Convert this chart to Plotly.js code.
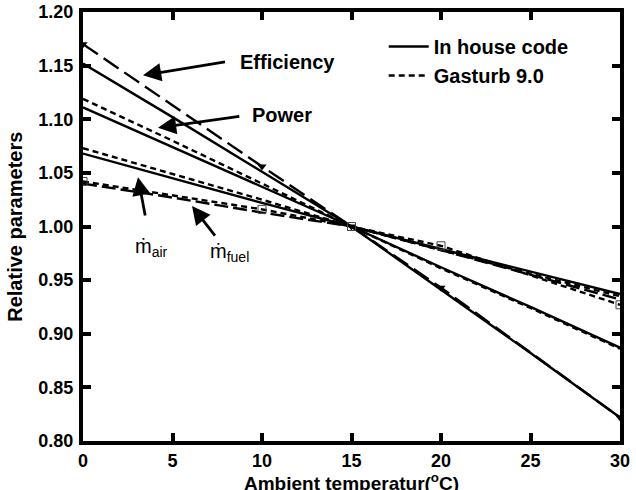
<!DOCTYPE html>
<html>
<head>
<meta charset="utf-8">
<script src="https://cdn.plot.ly/plotly-3.0.1.min.js"></script>
<style>html,body{margin:0;padding:0;background:#fff;}#chart{width:636px;height:490px;}</style>
</head>
<body>
<div id="chart"></div>
<script>
// Ambient temperature (°C)
const tempFull = [0, 5, 10, 15, 20, 25, 30];
const tempMarks = [0, 10, 15, 20, 30];

// In house code
const effInHouse = [1.152, 1.102, 1.051, 1.000, 0.941, 0.882, 0.822];
const powInHouse = [1.111, 1.074, 1.037, 1.000, 0.962, 0.925, 0.887];
const airInHouse = [1.068, 1.045, 1.022, 1.000, 0.979, 0.958, 0.937];
const fuelInHouse = [1.040, 1.027, 1.013, 1.000, 0.978, 0.955, 0.932];

// Gasturb 9.0
const effGasturb = [1.170, 1.056, 1.000, 0.943, 0.822];
const powGasturb = [1.119, 1.080, 1.040, 1.000, 0.961, 0.924, 0.886];
const airGasturb = [1.073, 1.049, 1.025, 1.000, 0.978, 0.956, 0.935];
const fuelGasturb = [1.042, 1.016, 1.000, 0.982, 0.927];

const legendNames = ['In house code', 'Gasturb 9.0'];
const xTicks = [0, 5, 10, 15, 20, 25, 30];
const yTicks = [0.80, 0.85, 0.90, 0.95, 1.00, 1.05, 1.10, 1.15, 1.20];
const xTitle = '<b>Ambient temperatur(<sup>o</sup>C)</b>';
const yTitle = '<b>Relative parameters</b>';

const W = 2.4;
const traces = [
  {x: tempFull, y: effInHouse, mode: 'lines', line: {color: '#000', width: W}, name: legendNames[0], showlegend: true},
  {x: tempMarks, y: effGasturb, mode: 'lines+markers', line: {color: '#000', width: W, dash: '18px,7px'}, marker: {symbol: 'triangle-down', size: 8, color: '#000'}, showlegend: false},
  {x: tempFull, y: powInHouse, mode: 'lines', line: {color: '#000', width: W}, showlegend: false},
  {x: tempFull, y: powGasturb, mode: 'lines', line: {color: '#000', width: W, dash: '6px,4px'}, name: legendNames[1], showlegend: true},
  {x: tempFull, y: airInHouse, mode: 'lines', line: {color: '#000', width: W}, showlegend: false},
  {x: tempFull, y: airGasturb, mode: 'lines', line: {color: '#000', width: W, dash: '6px,4px'}, showlegend: false},
  {x: tempFull, y: fuelInHouse, mode: 'lines', line: {color: '#000', width: W, dash: '14px,5px'}, showlegend: false},
  {x: tempMarks, y: fuelGasturb, mode: 'lines+markers', line: {color: '#000', width: W, dash: '6px,4px'}, marker: {symbol: 'square-open', size: 8, color: '#444', line: {width: 1}}, showlegend: false}
];

const F = 'Liberation Sans, Arial, sans-serif';
function arrow(x, y, ax, ay) {
  return {x: x, y: y, ax: ax, ay: ay, xref: 'x', yref: 'y', axref: 'x', ayref: 'y',
    showarrow: true, arrowhead: 2, arrowsize: 1.3, arrowwidth: 2.8, arrowcolor: '#000', text: ' '};
}
const annotations = [
  arrow(3.35, 1.141, 8.1, 1.154),
  {x: 11.4, y: 1.153, xref: 'x', yref: 'y', text: '<b>Efficiency</b>', showarrow: false, font: {family: F, size: 20, color: '#000'}},
  arrow(4.19, 1.092, 8.9, 1.103),
  {x: 11.1, y: 1.104, xref: 'x', yref: 'y', text: '<b>Power</b>', showarrow: false, font: {family: F, size: 20, color: '#000'}},
  arrow(3.07, 1.046, 3.58, 1.001),
  {x: 3.85, y: 0.98, xref: 'x', yref: 'y', text: 'ṁ<sub>air</sub>', showarrow: false, font: {family: F, size: 20, color: '#000'}},
  arrow(6.09, 1.019, 7.54, 0.988),
  {x: 8.2, y: 0.976, xref: 'x', yref: 'y', text: 'ṁ<sub>fuel</sub>', showarrow: false, font: {family: F, size: 20, color: '#000'}},
  {x: 0.5, y: -0.064, xref: 'paper', yref: 'paper', xanchor: 'center', yanchor: 'top', text: xTitle, showarrow: false, font: {family: F, size: 19, color: '#000'}},
  {x: -0.128, y: 0.5, xref: 'paper', yref: 'paper', xanchor: 'center', yanchor: 'middle', textangle: -90, text: yTitle, showarrow: false, font: {family: F, size: 20, color: '#000'}}
];

const axisCommon = {
  showline: true, linewidth: 4, linecolor: '#000', mirror: 'ticks',
  ticks: 'inside', ticklen: 8, tickwidth: 4, tickcolor: '#000',
  showgrid: false, zeroline: false,
  tickfont: {family: F, size: 18, color: '#000', weight: 'bold'}
};

const layout = {
  width: 636, height: 490,
  margin: {l: 83, r: 16, t: 12, b: 49},
  paper_bgcolor: '#fff', plot_bgcolor: '#fff',
  xaxis: Object.assign({}, axisCommon, {
    range: [0, 30], tickvals: xTicks, ticktext: xTicks.map(String)
  }),
  yaxis: Object.assign({}, axisCommon, {
    range: [0.80, 1.20], tickvals: yTicks,
    ticktext: yTicks.map(v => v.toFixed(2)),
    ticklabelstandoff: 2
  }),
  showlegend: true,
  legend: {x: 0.56, y: 0.965, xanchor: 'left', yanchor: 'top', bgcolor: 'rgba(0,0,0,0)',
    font: {family: F, size: 20, color: '#000', weight: 'bold'}, tracegroupgap: 0, itemwidth: 40},
  annotations: annotations
};

Plotly.newPlot('chart', traces, layout, {displayModeBar: false, staticPlot: true});
</script>
</body>
</html>
